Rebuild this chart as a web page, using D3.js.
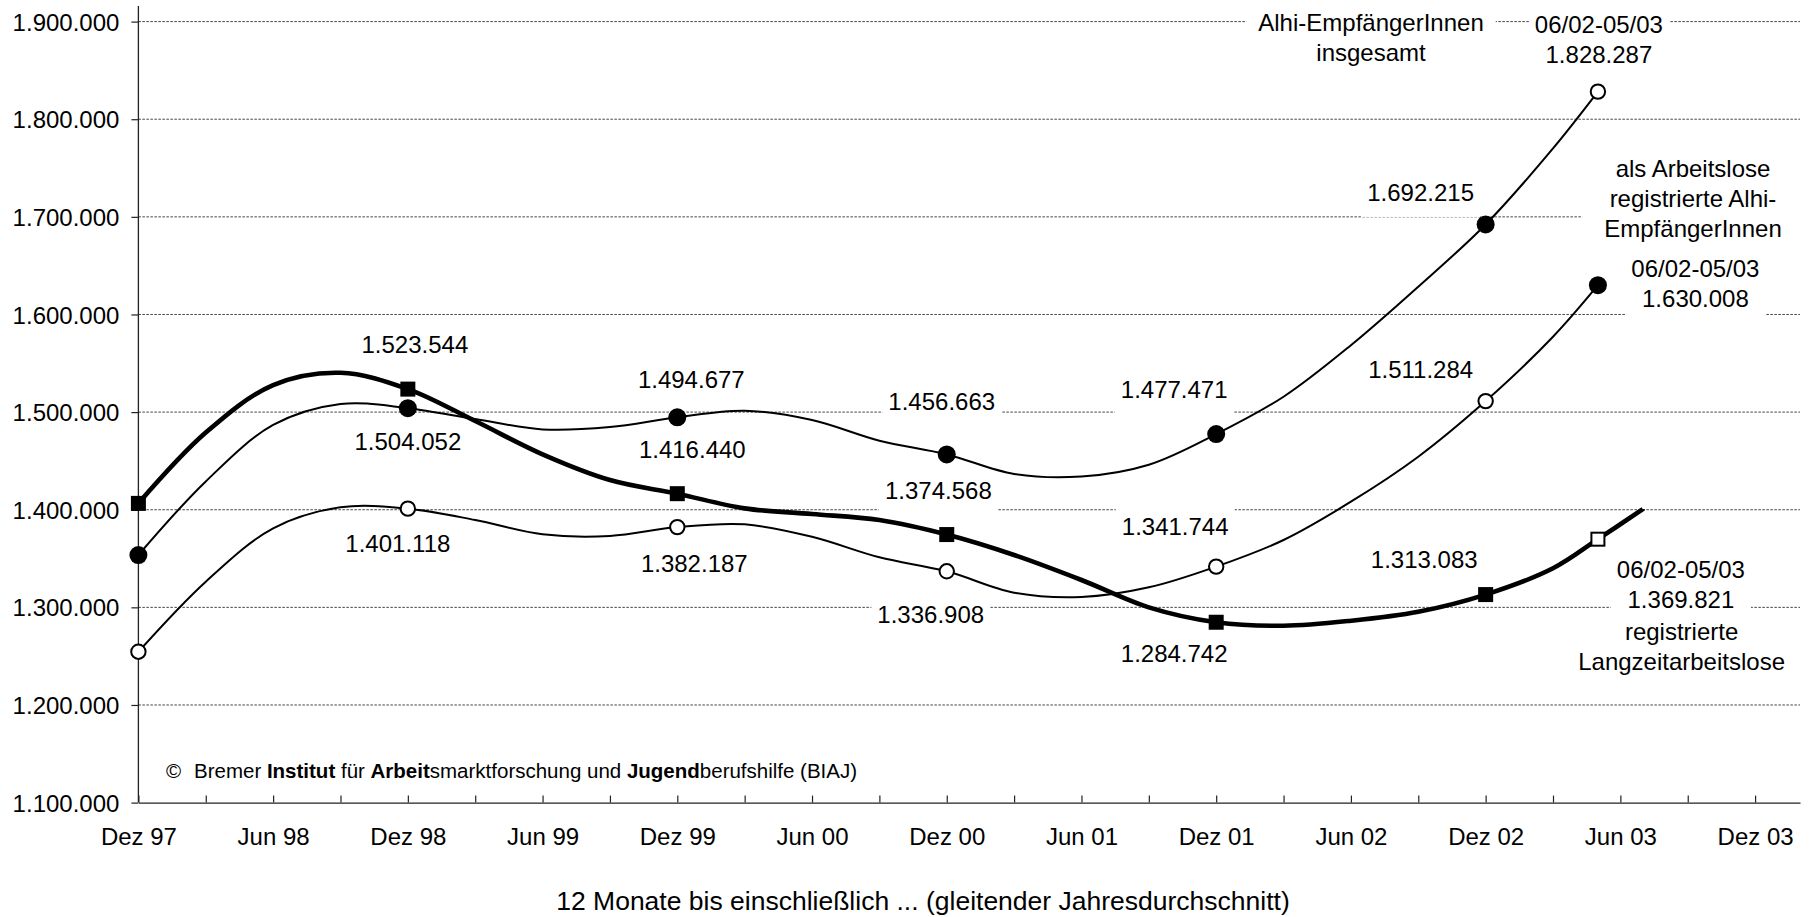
<!DOCTYPE html>
<html>
<head>
<meta charset="utf-8">
<script src="https://cdn.jsdelivr.net/npm/d3@7"></script>
<style>
  body { margin: 0; background: #fff; }
  text { font-family: "Liberation Sans", Arial, Helvetica, sans-serif; fill: #000; }
</style>
</head>
<body>
<svg id="chart" width="1809" height="917"></svg>
<script>
// Months counted from Dez 97 (= 0); 12-month moving averages
const months = [0, 3, 6, 9, 12, 15, 18, 21, 24, 27, 30, 33, 36, 39, 42, 45, 48, 51, 54, 57, 60, 63, 65];

// Alhi-EmpfängerInnen insgesamt
const alhiTotal = [1353600, 1429000, 1486800, 1508300, 1504052, 1492900, 1482300, 1484700,
                   1494677, 1501400, 1491900, 1470700, 1456663, 1436600, 1434000, 1446100,
                   1477471, 1515750, 1568500, 1628500, 1692215, 1770100, 1828287];

// als Arbeitslose registrierte Alhi-EmpfängerInnen
const alhiRegistered = [1254550, 1326300, 1380950, 1402450, 1401118, 1389450, 1374800, 1373100,
                        1382187, 1385000, 1372300, 1351250, 1336908, 1315000, 1310600, 1320500,
                        1341744, 1369000, 1408200, 1454300, 1511284, 1577200, 1630008];

// registrierte Langzeitarbeitslose (one further month after 06/02-05/03)
const longTermMonths = [0, 3, 6, 9, 12, 15, 18, 21, 24, 27, 30, 33, 36, 39, 42, 45, 48, 51, 54, 57, 60, 63, 65, 67];
const longTerm = [1406500, 1479000, 1527700, 1540300, 1523544, 1490850, 1456700, 1430400,
                  1416440, 1401400, 1395600, 1389450, 1374568, 1353600, 1328000, 1300000,
                  1284742, 1281150, 1286300, 1295500, 1313083, 1340000, 1369821, 1400600];

// Months carrying a marker and a value label; the last one is the period 06/02-05/03
const markerMonths = [0, 12, 24, 36, 48, 60];
const latestMonth = 65;
const latestPeriod = "06/02-05/03";

const yTicks = [1100000, 1200000, 1300000, 1400000, 1500000, 1600000, 1700000, 1800000, 1900000];
const xTickLabels = ["Dez 97", "Jun 98", "Dez 98", "Jun 99", "Dez 99", "Jun 00", "Dez 00",
                     "Jun 01", "Dez 01", "Jun 02", "Dez 02", "Jun 03", "Dez 03"];

const seriesNames = [
  ["Alhi-EmpfängerInnen", "insgesamt"],
  ["als Arbeitslose", "registrierte Alhi-", "EmpfängerInnen"],
  ["registrierte", "Langzeitarbeitslose"]
];

const xTitle = "12 Monate bis einschließlich ... (gleitender Jahresdurchschnitt)";

// ---------- layout ----------
const FONT = 24;
const LINE = 30;
const fmt = d3.formatLocale({ decimal: ",", thousands: ".", grouping: [3], currency: ["", "€"] }).format(",d");

const x = d3.scaleLinear().domain([0, 74]).range([138.4, 1800]);
const y = d3.scaleLinear().domain([1100000, 1900000]).range([802.6, 21.6]);

const svg = d3.select("#chart");
const gGrid = svg.append("g");
const gBoxes = svg.append("g");
const gAxes = svg.append("g");
const gLines = svg.append("g");
const gMarks = svg.append("g");
const gText = svg.append("g");

// dashed horizontal gridlines
gGrid.selectAll("line")
  .data(yTicks.filter(v => v > y.domain()[0]))
  .join("line")
  .attr("x1", x(0)).attr("x2", x(74))
  .attr("y1", d => y(d)).attr("y2", d => y(d))
  .attr("stroke", "#444").attr("stroke-width", 1)
  .attr("stroke-dasharray", "2.5,1.5");

// value axis
const yAxis = gAxes.append("g")
  .attr("transform", `translate(${x(0)},0)`)
  .call(d3.axisLeft(y).tickValues(yTicks).tickFormat(fmt).tickSizeInner(7).tickSizeOuter(0).tickPadding(12));
yAxis.select(".domain").remove();
yAxis.selectAll(".tick line").attr("stroke", "#222").attr("stroke-width", 1.2);
yAxis.selectAll("text").attr("font-size", FONT).attr("dy", "0.36em");
yAxis.attr("font-family", null);
gAxes.append("line")
  .attr("x1", x(0)).attr("x2", x(0)).attr("y1", 6).attr("y2", y(y.domain()[0]))
  .attr("stroke", "#222").attr("stroke-width", 1.3);

// time axis: ticks every quarter, labels every half year
const xAxis = gAxes.append("g")
  .attr("transform", `translate(0,${y(y.domain()[0])})`)
  .call(d3.axisBottom(x)
    .tickValues(d3.range(0, 73, 3))
    .tickFormat(m => m % 6 === 0 ? xTickLabels[m / 6] : "")
    .tickSizeInner(-7).tickSizeOuter(0).tickPadding(25.4));
xAxis.attr("font-family", null);
xAxis.select(".domain").attr("stroke", "#222").attr("stroke-width", 1.3);
xAxis.selectAll(".tick line").attr("stroke", "#222").attr("stroke-width", 1.2);
xAxis.selectAll("text").attr("font-size", FONT);

// axis title
gText.append("text")
  .attr("x", 923).attr("y", 910)
  .attr("text-anchor", "middle").attr("font-size", 26.5)
  .text(xTitle);

// copyright line
const copy = gText.append("text").attr("y", 778.3).attr("font-size", 20.5);
copy.append("tspan").attr("x", 166).text("©");
copy.append("tspan").attr("x", 194).text("Bremer ");
copy.append("tspan").attr("font-weight", "bold").text("Institut");
copy.append("tspan").text(" für ");
copy.append("tspan").attr("font-weight", "bold").text("Arbeit");
copy.append("tspan").text("smarktforschung und ");
copy.append("tspan").attr("font-weight", "bold").text("Jugend");
copy.append("tspan").text("berufshilfe (BIAJ)");

// ---------- series ----------
const series = [
  { values: alhiTotal, months: months, width: 2, marker: "dot", latest: "ring",
    labels: { 12: [0, 42], 24: [14, -29], 36: [-5, -44], 48: [-42, -36], 60: [-65, -23], 65: [1, -29] },
    name: { x: 1371, y: 30.7, padX: 12 } },
  { values: alhiRegistered, months: months, width: 2, marker: "ring", latest: "dot",
    labels: { 12: [-10, 43], 24: [17, 44.6], 36: [-16, 52], 48: [-41, -31.6], 60: [-65, -22.7], 65: [97.5, 21.5] },
    name: { x: 1693, y: 176.7, padX: 22 } },
  { values: longTerm, months: longTermMonths, width: 4.6, marker: "square", latest: "box",
    labels: { 12: [7, -35.8], 24: [15, -35.3], 36: [-8.4, -35.2], 48: [-42, 39.5], 60: [-61.4, -26.9], 65: [83, 69.1] },
    name: { x: 1681.6, y: 640, padX: 6 } }
];

const line = d3.line()
  .x(d => x(d[0]))
  .y(d => y(d[1]))
  .curve(d3.curveCatmullRom.alpha(0.5));

function drawMarker(kind, cx, cy) {
  if (kind === "dot") {
    gMarks.append("circle").attr("cx", cx).attr("cy", cy).attr("r", 9).attr("fill", "#000");
  } else if (kind === "ring") {
    gMarks.append("circle").attr("cx", cx).attr("cy", cy).attr("r", 7.2)
      .attr("fill", "#fff").attr("stroke", "#000").attr("stroke-width", 2);
  } else if (kind === "square") {
    gMarks.append("rect").attr("x", cx - 7.5).attr("y", cy - 7.5).attr("width", 15).attr("height", 15)
      .attr("fill", "#000");
  } else {
    gMarks.append("rect").attr("x", cx - 6.5).attr("y", cy - 6.5).attr("width", 13).attr("height", 13)
      .attr("fill", "#fff").attr("stroke", "#000").attr("stroke-width", 2);
  }
}

// text block with a white backing box that interrupts the gridlines
function textBlock(lines, cx, firstBaseline, padX) {
  const g = gText.append("g");
  lines.forEach((t, i) => {
    g.append("text")
      .attr("x", cx).attr("y", firstBaseline + i * LINE)
      .attr("text-anchor", "middle").attr("font-size", FONT)
      .text(t);
  });
  const b = g.node().getBBox();
  gBoxes.append("rect")
    .attr("x", b.x - padX).attr("y", b.y - 9)
    .attr("width", b.width + 2 * padX).attr("height", b.height + 19.5)
    .attr("fill", "#fff");
}

series.forEach(s => {
  const pts = s.months.map((m, i) => [m, s.values[i]]);
  gLines.append("path")
    .attr("d", line(pts))
    .attr("fill", "none").attr("stroke", "#000")
    .attr("stroke-width", s.width).attr("stroke-linejoin", "round").attr("stroke-linecap", "butt");

  const valueAt = m => s.values[s.months.indexOf(m)];

  markerMonths.forEach(m => drawMarker(s.marker, x(m), y(valueAt(m))));
  drawMarker(s.latest, x(latestMonth), y(valueAt(latestMonth)));

  Object.entries(s.labels).forEach(([mStr, off]) => {
    const m = +mStr;
    const v = valueAt(m);
    const lines = m === latestMonth ? [latestPeriod, fmt(v)] : [fmt(v)];
    const lastBaseline = y(v) + off[1];
    textBlock(lines, x(m) + off[0], lastBaseline - (lines.length - 1) * LINE, 6);
  });
});

// series names
series.forEach((s, i) => textBlock(seriesNames[i], s.name.x, s.name.y, s.name.padX));
</script>
</body>
</html>
